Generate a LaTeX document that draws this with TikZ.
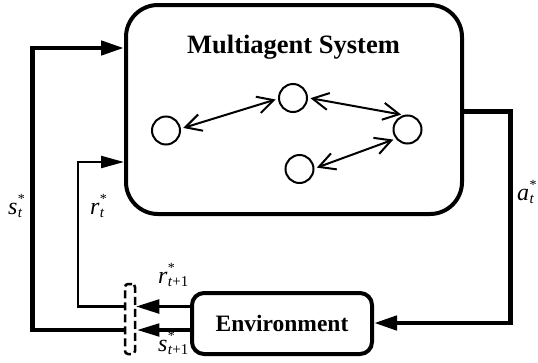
\documentclass[tikz,border=0pt]{standalone}
\usepackage{fontspec}
\setmainfont{LiberationSerif}[Extension=.ttf, UprightFont=*-Regular, BoldFont=*-Bold, ItalicFont=*-Italic, BoldItalicFont=*-BoldItalic]
\usetikzlibrary{arrows.meta}
\newcommand{\vlab}[2]{{\fontsize{24}{24}\selectfont\textit{#1}}\kern0.3pt\rlap{\raisebox{10.5pt}{\fontsize{14}{14}\selectfont *}}\raisebox{-3.5pt}{\fontsize{15}{15}\selectfont #2}}
\tikzset{
  mainbox/.style={draw, line width=4pt, rounded corners=32pt, minimum width=336pt, minimum height=209pt, inner sep=0pt},
  envbox/.style={draw, line width=4pt, rounded corners=12pt, minimum width=180pt, minimum height=61pt, inner sep=0pt, font=\fontsize{23.5}{28}\selectfont\bfseries},
  agent/.style={draw, circle, line width=2pt, minimum size=28pt, inner sep=0pt},
  switchbox/.style={draw, dash pattern=on 8pt off 4pt, line width=2.5pt, rounded corners=3pt, minimum width=10pt, minimum height=70pt, inner sep=0pt},
  thk/.style={line width=4.5pt},
  thn/.style={line width=2.3pt},
  bigtip/.style={-{Triangle[length=23pt,width=14pt]}},
  smalltip/.style={-{Triangle[length=23pt,width=12pt]}},
  link/.style={line width=2pt, {Straight Barb[length=16pt,width=17pt]}-{Straight Barb[length=16pt,width=17pt]}, shorten <=2.5pt, shorten >=2.5pt},
  lab/.style={anchor=base west, inner sep=0pt}
}
\begin{document}
\begin{tikzpicture}[x=1pt,y=-1pt]
\useasboundingbox (0,0) rectangle (538,362);
% main box
\node[mainbox] (mas) at (294,109.5) {};
\node[anchor=base, inner sep=0pt, font=\fontsize{26.5}{30}\selectfont\bfseries] (title) at (293.5,53) {Multiagent System};
% agents
\node[agent] (c1) at (166,130.5) {};
\node[agent] (c2) at (293,98) {};
\node[agent] (c3) at (407.5,129.5) {};
\node[agent] (c4) at (299.5,169) {};
\draw[link] (c1.7) -- (c2.183);
\draw[link] (c2.1) -- (c3.105);
\draw[link] (c4.2) -- (c3.218);
% environment
\node[envbox] (env) at (282,323.5) {Environment};
% switch
\node[switchbox] (sw) at (130,319) {};
% coordinates
\coordinate (sBL) at (32.5,330);
\coordinate (sTL) at (32.5,48);
\coordinate (rBL) at (78,306.5);
\coordinate (rTL) at (78,162);
\coordinate (aTR) at (510.5,111.5);
\coordinate (aBR) at (510.5,323);
% feedback loops
\draw[thk,bigtip] (sw.west |- sBL) -- (sBL) -- (sTL) -- (mas.west |- sTL);
\draw[thn,smalltip] (sw.west |- rBL) -- (rBL) -- (rTL) -- (mas.west |- rTL);
\draw[thn,bigtip] (env.west |- rBL) -- (sw.east |- rBL);
\draw[thk,smalltip] (env.west |- sBL) -- (sw.east |- sBL);
\draw[thk,bigtip] (mas.east |- aTR) -- (aTR) -- (aBR) -- (env.east |- aBR);
% labels
\node[lab] (lst) at (8,214) {\vlab{s}{\textit{t}}};
\node[lab] (lrt) at (90,214) {\vlab{r}{\textit{t}}};
\node[lab] (lat) at (517,200) {\vlab{a}{\textit{t}}};
\node[lab] (lr1) at (158,283) {\vlab{r}{\textit{t}+1}};
\node[lab] (ls1) at (158,351) {\vlab{s}{\textit{t}+1}};
\end{tikzpicture}
\end{document}
